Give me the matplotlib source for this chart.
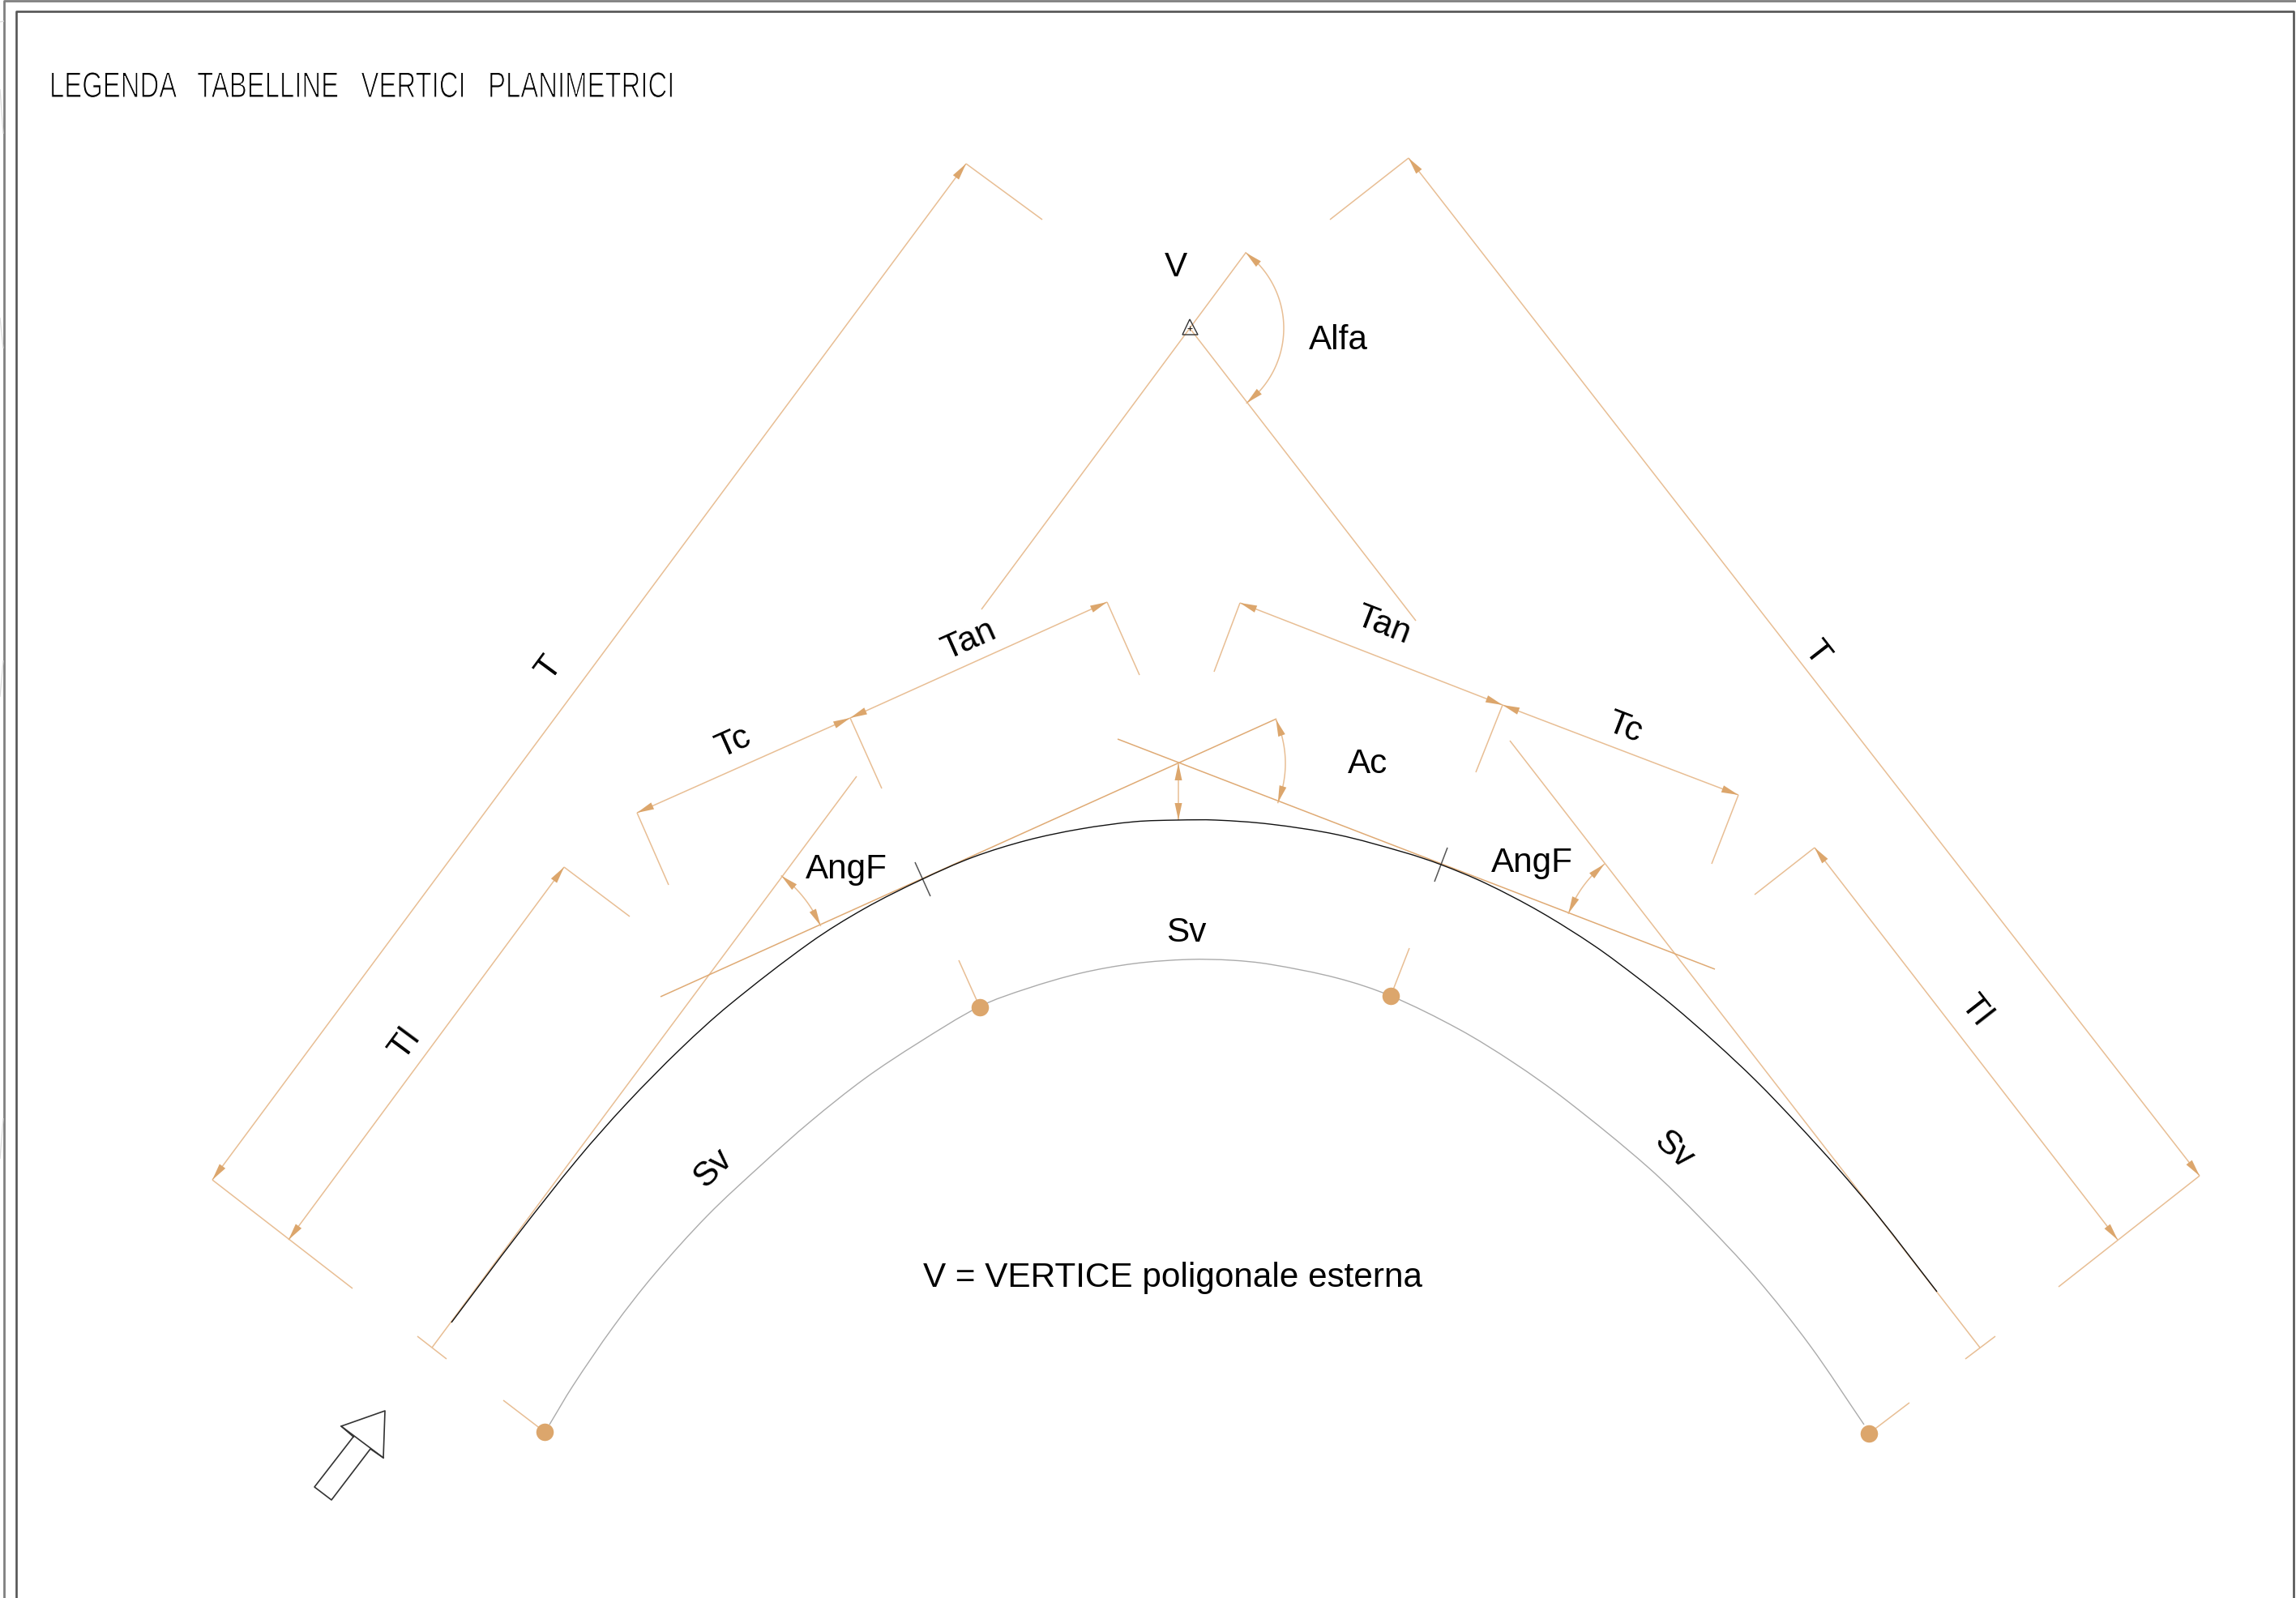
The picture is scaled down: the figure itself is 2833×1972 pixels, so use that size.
"""Legenda tabelline vertici planimetrici - schema CAD ridisegnato con matplotlib.
Coordinate in pixel dell'immagine (origine in alto a sinistra).
"""
import numpy as np
import matplotlib
matplotlib.use("Agg")
import matplotlib.pyplot as plt
import matplotlib.patheffects as pe
from matplotlib.patches import Polygon, PathPatch
from matplotlib.path import Path
from matplotlib.transforms import Affine2D

ORANGE = "#E8BE94"
ORANGE_DK = "#DFAA74"
HEAD = "#DCA66C"

# --- asse stradale (nero) e curva offset (grigia) ---
AXIS_X = [557, 640, 713, 773, 840, 900, 1000, 1067, 1138, 1200, 1267, 1333, 1400, 1453, 1500,
          1567, 1650, 1733, 1778, 1833, 1900, 1967, 2020, 2063, 2117, 2167, 2217, 2267, 2317, 2390]
AXIS_Y = [1632, 1522, 1430, 1362, 1294, 1240, 1163, 1121, 1085, 1058, 1037, 1023, 1014, 1012, 1012,
          1017, 1030, 1052, 1067, 1090, 1125, 1167, 1206, 1240, 1287, 1334, 1386, 1441, 1500, 1594]
OFFS_X = [678, 707, 757, 807, 873, 940, 1000, 1067, 1133, 1209, 1267, 1333, 1400, 1467, 1520,
          1567, 1650, 1716, 1800, 1867, 1933, 2033, 2100, 2167, 2233, 2300]
OFFS_Y = [1758, 1710, 1637, 1573, 1500, 1437, 1384, 1331, 1287, 1242, 1220, 1201, 1189, 1184, 1185,
          1190, 1207, 1229, 1270, 1311, 1358, 1440, 1505, 1577, 1660, 1758]

# --- quote con frecce alle due estremita' ---
DIMS = [
    ((262, 1456), (1192, 202)),    # T sx
    ((356, 1530), (696, 1070)),    # Tl sx
    ((786, 1003), (1049, 886)),    # Tc sx
    ((1049, 886), (1366, 743)),    # Tan sx
    ((1530, 744), (1854, 870)),    # Tan dx
    ((1854, 870), (2145, 981)),    # Tc dx
    ((1738, 195), (2714, 1451)),   # T dx
    ((2239, 1046), (2613, 1530)),  # Tl dx
    ((1454, 942), (1454, 1012)),   # freccia verticale
]
# --- linee di richiamo ---
LEADERS = [
    ((1192, 202), (1286, 271)), ((262, 1456), (435, 1590)),
    ((696, 1070), (777, 1131)), ((786, 1003), (825, 1092)),
    ((1049, 886), (1088, 973)), ((1366, 743), (1406, 833)),
    ((1530, 744), (1498, 829)), ((1854, 870), (1821, 953)),
    ((2145, 981), (2112, 1066)), ((1738, 195), (1641, 271)),
    ((2714, 1451), (2540, 1588)), ((2239, 1046), (2165, 1104)),
    ((1537, 312), (1211, 752)), ((1468, 405), (1747, 766)),
    ((1057, 958), (533, 1663)), ((1863, 914), (2443, 1663)),
    ((515, 1649), (551, 1677)), ((2425, 1677), (2462, 1649)),
    ((672, 1767), (621, 1728)), ((1209, 1243), (1183, 1185)),
    ((1716, 1229), (1739, 1170)), ((2306, 1769), (2356, 1731)),
]
TANGENTS = [((815, 1230), (1575, 887)), ((1379, 912), (2116, 1196))]
TICKS = [((1129, 1064), (1148, 1106)), ((1786, 1046), (1770, 1088))]

# --- archi: centro, raggio, punti estremi ---
ARCS = [
    ((1468, 405), 116, (1537, 312), (1538, 497)),   # Alfa
    ((1454, 942), 132, (1574, 888), (1578, 991)),   # Ac
    ((872, 1203), 153, (965, 1080), (1013, 1142)),  # AngF sx
    ((2069, 1178), 143, (1980, 1067), (1935, 1127)),  # AngF dx
]
DOTS_X = [672, 1209, 1716, 2306]
DOTS_Y = [1767, 1243, 1229, 1769]

TRIANGLE = [(1468, 394), (1459, 413), (1478, 413)]
BIG_ARROW = [(436, 1773), (388, 1835), (409, 1851), (457, 1788), (473, 1799), (475, 1741), (421, 1760)]
BIG_ARROW_BASE = [(421, 1760), (473, 1799)]

FRAME_IN = [(20, 1972), (20, 14), (2830, 14), (2830, 1972)]
FRAME_OUT = [(5, 1972), (5, 1), (2833, 1)]
EDGE_MARKS = [((0, 27), (5, 26)), ((0, 110), (4, 165)), ((0, 392), (4, 430)),
              ((0, 860), (4, 815)), ((0, 1430), (4, 1380))]

# etichetta, x, y, rotazione
LABELS = [
    ("V", 1451, 330, 0), ("Alfa", 1651, 420, 0), ("T", 678, 824, 53.5), ("Tl", 500, 1288, 53.5),
    ("Tc", 905, 916, 24), ("Tan", 1196, 790, 24), ("Tan", 1707, 772, -21), ("Tc", 2005, 898, -21),
    ("T", 2242, 806, -52), ("Tl", 2438, 1247, -52), ("Ac", 1688, 943, 0), ("AngF", 1044, 1073, 0),
    ("AngF", 1890, 1065, 0), ("Sv", 1464, 1151, 0), ("Sv", 880, 1442, 45), ("Sv", 2065, 1419, -42),
    ("V = VERTICE poligonale esterna", 1447, 1577, 0),
]
TITLE = "LEGENDA   TABELLINE   VERTICI   PLANIMETRICI"


class Condensed(pe.AbstractPathEffect):
    """Stringe il testo in x attorno a x0 e lo assottiglia (aspetto font CAD)."""

    def __init__(self, sx, x0, thin):
        super().__init__()
        self.sx, self.x0, self.thin = sx, x0, thin

    def draw_path(self, renderer, gc, tpath, affine, rgbFace=None):
        a = affine + Affine2D().translate(-self.x0, 0).scale(self.sx, 1).translate(self.x0, 0)
        renderer.draw_path(gc, tpath, a, rgbFace)
        g = renderer.new_gc()
        g.copy_properties(gc)
        g.set_foreground("white")
        g.set_linewidth(self.thin)
        renderer.draw_path(g, tpath, a, None)
        g.restore()


def smooth(xs, ys):
    """Curva di Bezier attraverso i punti letti, maniglie proporzionali alla corda."""
    p = np.column_stack([xs, ys]).astype(float)
    m = np.gradient(p, axis=0)
    m[1:-1] = p[2:] - p[:-2]
    m /= np.hypot(m[:, 0], m[:, 1])[:, None]
    verts, codes = [p[0]], [Path.MOVETO]
    for i in range(len(p) - 1):
        h = np.hypot(*(p[i + 1] - p[i])) / 3
        verts += [p[i] + m[i] * h, p[i + 1] - m[i + 1] * h, p[i + 1]]
        codes += [Path.CURVE4] * 3
    return Path(verts, codes)


def seg(ax, a, b, color=ORANGE, lw=1.1):
    ax.plot([a[0], b[0]], [a[1], b[1]], color=color, lw=lw, solid_capstyle="butt")


def head(ax, tip, ux, uy, length=21, half=4.5):
    """Punta di freccia piena: tip = vertice, (ux,uy) = direzione verso cui punta."""
    bx, by = tip[0] - ux * length, tip[1] - uy * length
    ax.add_patch(Polygon([tip, (bx - uy * half, by + ux * half), (bx + uy * half, by - ux * half)],
                         closed=True, fc=HEAD, ec="none", zorder=3))


def dim(ax, a, b):
    seg(ax, a, b)
    d = np.hypot(b[0] - a[0], b[1] - a[1])
    ux, uy = (b[0] - a[0]) / d, (b[1] - a[1]) / d
    head(ax, a, -ux, -uy)
    head(ax, b, ux, uy)


def arc(ax, c, r, p0, p1):
    t0 = np.arctan2(p0[1] - c[1], p0[0] - c[0])
    t1 = np.arctan2(p1[1] - c[1], p1[0] - c[0])
    tt = np.linspace(t0, t1, 60)
    ax.plot(c[0] + r * np.cos(tt), c[1] + r * np.sin(tt), color=ORANGE, lw=1.1)
    s = np.sign(t1 - t0)
    # la corda della punta segue l'arco, non la tangente all'estremo
    dt = 10 / r
    for t, sg in ((t0, -s), (t1, s)):
        ux, uy = -np.sin(t - sg * dt) * sg, np.cos(t - sg * dt) * sg
        head(ax, (c[0] + r * np.cos(t), c[1] + r * np.sin(t)), ux, uy)


def main():
    fig = plt.figure(figsize=(28.33, 19.72), dpi=100)
    ax = fig.add_axes([0, 0, 1, 1])
    ax.set_xlim(0, 2833)
    ax.set_ylim(1972, 0)
    ax.axis("off")

    ax.plot(*zip(*FRAME_OUT), color="#808080", lw=2.0)
    ax.plot(*zip(*FRAME_IN), color="#555555", lw=1.9)
    for a, b in EDGE_MARKS:
        seg(ax, a, b, color="#dddddd", lw=0.9)

    ax.add_patch(PathPatch(smooth(OFFS_X, OFFS_Y), fc="none", ec="#ababab", lw=1.0))
    for a, b in LEADERS:
        seg(ax, a, b)
    for a, b in TANGENTS:
        seg(ax, a, b, color=ORANGE_DK)
    for a, b in DIMS:
        dim(ax, a, b)
    for c, r, p0, p1 in ARCS:
        arc(ax, c, r, p0, p1)
    ax.add_patch(PathPatch(smooth(AXIS_X, AXIS_Y), fc="none", ec="#111111", lw=1.0, zorder=4))
    for a, b in TICKS:
        seg(ax, a, b, color="#555555")

    ax.scatter(DOTS_X, DOTS_Y, s=240, color=HEAD, linewidths=0, zorder=5)

    ax.add_patch(Polygon(TRIANGLE, closed=True, fc="none", ec="#333333", lw=1.0, zorder=5))
    ax.plot(*zip(*BIG_ARROW, BIG_ARROW[0]), color="#333333", lw=1.2)
    ax.plot(*zip(*BIG_ARROW_BASE), color="#333333", lw=1.2)
    ax.plot([1468], [405], marker="+", ms=4, mew=0.7, color="#222222", zorder=6)

    for txt, x, y, rot in LABELS:
        ax.text(x, y, txt, fontsize=30.4, family="Liberation Sans", ha="center", va="center",
                rotation=rot, rotation_mode="anchor", color="black")

    t = ax.text(61, 120, TITLE, fontsize=32, family="Liberation Sans",
                ha="left", va="baseline", color="black")
    t.set_path_effects([Condensed(0.74, ax.transData.transform((61, 120))[0], 0.8)])

    fig.savefig("out.png", dpi=100, facecolor="white")


if __name__ == "__main__":
    main()
